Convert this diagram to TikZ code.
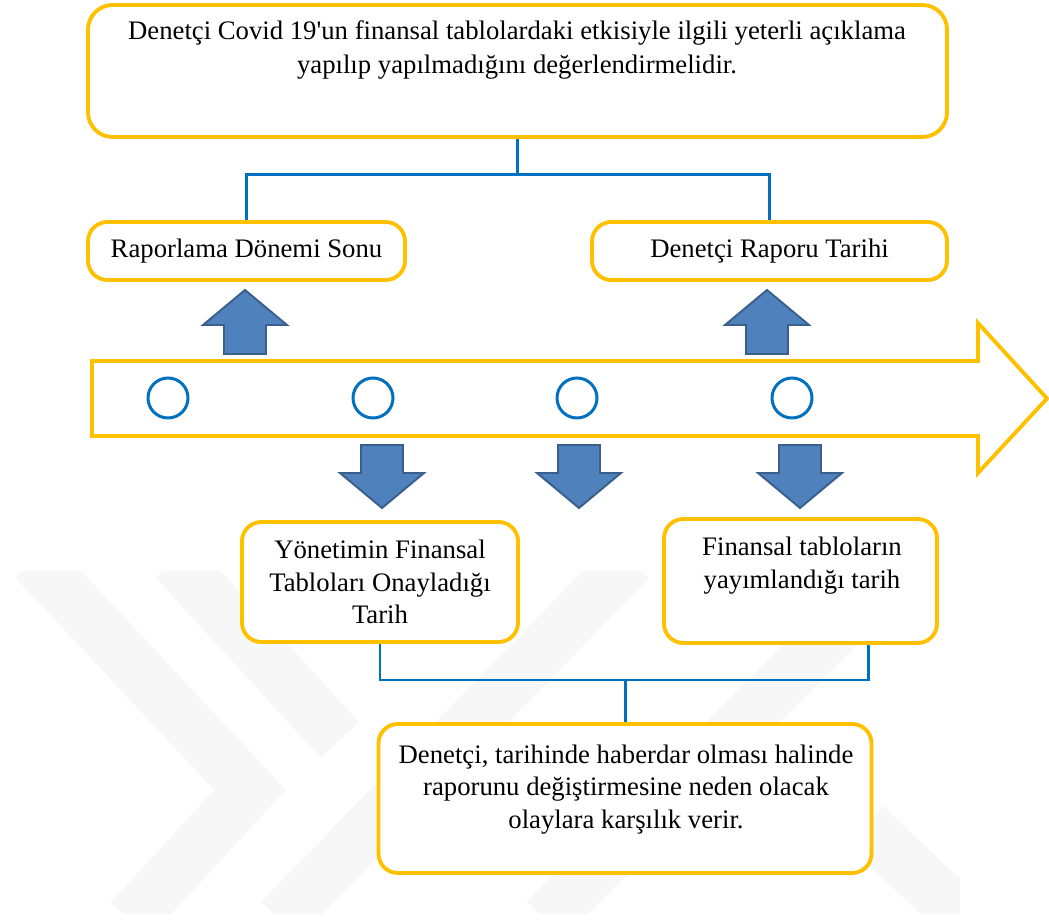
\documentclass[tikz,border=0pt]{standalone}
\usepackage{fontspec}
\setmainfont{Liberation Serif}
\usetikzlibrary{positioning}

\definecolor{boxyellow}{HTML}{FFC000}
\definecolor{linkblue}{HTML}{0070C0}
\definecolor{arrowfill}{HTML}{4F81BD}
\definecolor{arrowedge}{HTML}{3A5F8B}

\tikzset{
  datebox/.style={draw=boxyellow, line width=2.2pt, rounded corners=11pt,
    fill=white, align=center, inner sep=0pt,
    font=\fontsize{15.2}{18.7}\selectfont},
  boxtext/.style={align=center, inner sep=0pt, font=\fontsize{15.2}{18.7}\selectfont},
  link/.style={draw=linkblue, line width=1.7pt},
  blockarrow/.style={fill=arrowfill, draw=arrowedge, line width=1.1pt, line join=miter},
  mark circle/.style={draw=linkblue, line width=1.7pt},
  watermark/.style={draw=gray!6, line width=1.05cm}
}

\begin{document}
\begin{tikzpicture}
  \useasboundingbox (0,0) rectangle (20.98,-18.4);

  % watermark
  \begin{scope}
    \clip (0,-11.44) rectangle (19.2,-18.26);
    \draw[watermark] (0.70,-11.2) -- (5.0,-15.8) -- (2.6,-18.4);
    \draw[watermark] (3.5,-11.2) -- (6.8,-14.8);
    \draw[watermark] (12.6,-11.2) -- (5.6,-18.4);
    \draw[watermark] (18.1,-11.2) -- (10.9,-18.4);
    \draw[watermark] (17.3,-16.5) -- (19.3,-18.4);
  \end{scope}

  % top box
  \node[datebox, rounded corners=14pt, minimum width=17.18cm, minimum height=2.64cm] (top) at (10.35,-1.42) {};
  \node[boxtext, font=\fontsize{15.2}{19.3}\selectfont] (toptext) at (10.34,-1.00)
    {Denetçi Covid 19\textquotesingle un finansal tablolardaki etkisiyle ilgili yeterli açıklama\\
     yapılıp yapılmadığını değerlendirmelidir.};

  % upper dates
  \node[datebox, minimum width=6.34cm, minimum height=1.16cm] (rap) at (4.93,-5.02)
    {Raporlama Dönemi Sonu};
  \node[datebox, minimum width=7.10cm, minimum height=1.16cm] (den) at (15.39,-5.02)
    {Denetçi Raporu Tarihi};

  \draw[link] (top.south) -- ++(0,-0.72) -| (rap.north);
  \draw[link] (top.south) -- ++(0,-0.72) -| (den.north);

  % up arrows
  \foreach \x in {4.90,15.34}
    \draw[blockarrow] (\x-0.42,-7.08) -- (\x-0.42,-6.50) -- (\x-0.84,-6.50)
      -- (\x,-5.80) -- (\x+0.84,-6.50) -- (\x+0.42,-6.50) -- (\x+0.42,-7.08) -- cycle;

  % time line
  \draw[draw=boxyellow, line width=2.2pt, fill=white, line join=miter]
    (1.84,-7.22) -- (19.56,-7.22) -- (19.56,-6.46) -- (20.94,-7.97)
    -- (19.56,-9.46) -- (19.56,-8.72) -- (1.84,-8.72) -- cycle;
  \foreach \x in {3.36,7.46,11.54,15.84}
    \draw[mark circle] (\x,-7.96) circle (0.40);

  % down arrows
  \foreach \x in {7.64,11.58,16.0}
    \draw[blockarrow] (\x-0.42,-8.90) -- (\x+0.42,-8.90) -- (\x+0.42,-9.46)
      -- (\x+0.84,-9.46) -- (\x,-10.16) -- (\x-0.84,-9.46) -- (\x-0.42,-9.46) -- cycle;

  % lower dates
  \node[datebox, minimum width=5.52cm, minimum height=2.40cm] (yon) at (7.60,-11.64)
    {Yönetimin Finansal\\ Tabloları Onayladığı\\ Tarih};
  \node[datebox, minimum width=5.46cm, minimum height=2.48cm] (fin) at (16.01,-11.62) {};
  \node[boxtext] (fintext) at (16.04,-11.32) {Finansal tabloların\\ yayımlandığı tarih};

  % result
  \node[datebox, minimum width=9.86cm, minimum height=2.98cm] (son) at (12.5,-15.97) {};
  \node[boxtext] (sontext) at (12.52,-15.79)
    {Denetçi, tarihinde haberdar olması halinde\\ raporunu değiştirmesine neden olacak\\
     olaylara karşılık verir.};

  \coordinate (join) at (12.5,-13.6);
  \draw[link] (yon.south) |- (join) -| ([xshift=1.35cm]fin.south);
  \draw[link] (join) -- (son.north);
\end{tikzpicture}
\end{document}
